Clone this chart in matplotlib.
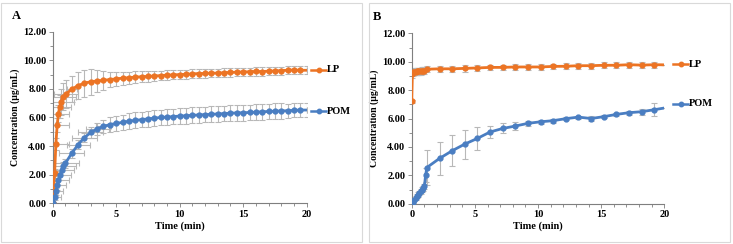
import matplotlib
matplotlib.use("Agg")
import matplotlib.pyplot as plt
from matplotlib.lines import Line2D
from matplotlib.patches import Rectangle
from matplotlib.ticker import MultipleLocator, FormatStrFormatter

plt.rcParams['font.family'] = ['Liberation Serif', 'DejaVu Serif']
plt.rcParams['font.weight'] = 'bold'

ORANGE = '#EC7424'
BLUE = '#4A7EC2'
ERR = '#B8B8B8'

# ---- Panel A data ----
tA_lp = [0, 0.05, 0.15, 0.25, 0.35, 0.45, 0.55, 0.65, 0.85, 1.05,
         1.5, 2, 2.5, 3, 3.5, 4, 4.5, 5, 5.5, 6, 6.5, 7, 7.5, 8, 8.5, 9, 9.5, 10,
         10.5, 11, 11.5, 12, 12.5, 13, 13.5, 14, 14.5, 15, 15.5, 16, 16.5, 17,
         17.5, 18, 18.5, 19, 19.5, 20]
lpA = [0.05, 0.55, 2.1, 4.15, 5.45, 6.25, 6.75, 7.1, 7.45, 7.65,
       7.97, 8.23, 8.4, 8.5, 8.55, 8.6, 8.65, 8.7, 8.75, 8.78, 8.82, 8.85, 8.87,
       8.9, 8.93, 8.96, 8.98, 9.0, 9.02, 9.05, 9.07, 9.08, 9.1, 9.1, 9.13, 9.15,
       9.17, 9.18, 9.2, 9.22, 9.21, 9.24, 9.25, 9.28, 9.3, 9.32, 9.3, 9.3]
lpA_yerr = [0.05, 0.2, 0.3, 0.4, 0.5, 0.6, 0.8, 0.9, 0.95, 1.0,
            0.9, 0.95, 0.95, 0.9, 0.8, 0.65, 0.55, 0.5, 0.45, 0.42, 0.4, 0.38,
            0.36, 0.35, 0.34, 0.33, 0.32, 0.32, 0.31, 0.31, 0.31, 0.3, 0.3, 0.3,
            0.3, 0.3, 0.3, 0.29, 0.29, 0.29, 0.29, 0.29, 0.28, 0.28, 0.28, 0.28,
            0.28, 0.28]
lpA_xerr = [0, 0.3, 0.5, 1.0, 0.95, 0.8, 0.9, 1.0, 1.0, 0.95,
            0.4] + [0] * 37

tA_pom = [0, 0.15, 0.25, 0.35, 0.45, 0.55, 0.7, 0.85, 1.0,
          1.5, 2, 2.5, 3, 3.5, 4, 4.5, 5, 5.5, 6, 6.5, 7, 7.5, 8, 8.5, 9, 9.5, 10,
          10.5, 11, 11.5, 12, 12.5, 13, 13.5, 14, 14.5, 15, 15.5, 16, 16.5, 17,
          17.5, 18, 18.5, 19, 19.5, 20]
pomA = [0, 0.43, 0.85, 1.25, 1.6, 1.95, 2.3, 2.6, 2.8,
        3.5, 4.1, 4.6, 4.95, 5.2, 5.38, 5.5, 5.58, 5.66, 5.74, 5.8, 5.85, 5.9,
        5.95, 6.0, 6.03, 6.06, 6.1, 6.12, 6.15, 6.18, 6.2, 6.22, 6.25, 6.27, 6.3,
        6.32, 6.33, 6.35, 6.37, 6.4, 6.42, 6.44, 6.46, 6.47, 6.5, 6.52, 6.52]
pomA_yerr = [0.05, 0.2, 0.25, 0.3, 0.3, 0.3, 0.3, 0.3, 0.3,
             0.3, 0.3, 0.3, 0.35, 0.4, 0.45, 0.5, 0.5, 0.52, 0.55, 0.55, 0.55,
             0.55, 0.55, 0.55, 0.55, 0.55, 0.55, 0.55, 0.55, 0.55, 0.55, 0.55,
             0.55, 0.55, 0.55, 0.55, 0.55, 0.55, 0.55, 0.55, 0.55, 0.55, 0.55,
             0.5, 0.5, 0.5, 0.5]
pomA_xerr = [0, 0.5, 0.6, 0.7, 0.8, 0.9, 1.0, 1.0, 1.05,
             0.97, 0.9, 1.0, 1.0, 0.9, 0.6] + [0] * 32

# ---- Panel B data ----
tB_lp = [0, 0.05, 0.1, 0.2, 0.3, 0.4, 0.5, 0.6, 0.7, 0.8, 0.9, 1.0, 1.2,
         2.2, 3.2, 4.2, 5.2, 6.2, 7.2, 8.2, 9.2, 10.2, 11.2, 12.2, 13.2, 14.2,
         15.2, 16.2, 17.2, 18.2, 19.2, 20]
lpB = [7.2, 9.1, 9.25, 9.3, 9.3, 9.32, 9.33, 9.33, 9.34, 9.35, 9.36, 9.38, 9.47,
       9.5, 9.5, 9.53, 9.56, 9.6, 9.6, 9.63, 9.63, 9.63, 9.67, 9.68, 9.72, 9.72,
       9.75, 9.75, 9.79, 9.76, 9.79, 9.78]
lpB_yerr = [0.1, 0.25, 0.25, 0.25, 0.25, 0.25, 0.25, 0.25, 0.25, 0.25, 0.25,
            0.25, 0.2, 0.22, 0.2, 0.22, 0.22, 0.2, 0.2, 0.2, 0.2, 0.2, 0.2, 0.2,
            0.2, 0.2, 0.2, 0.2, 0.22, 0.2, 0.22, 0]

tB_pom = [0, 0.1, 0.2, 0.3, 0.4, 0.5, 0.6, 0.7, 0.8, 0.9, 1.0, 1.1, 1.2,
          2.2, 3.2, 4.2, 5.2, 6.2, 7.2, 8.2, 9.2, 10.2, 11.2, 12.2, 13.2, 14.2,
          15.2, 16.2, 17.2, 18.2, 19.2, 20]
pomB = [0.05, 0.15, 0.28, 0.4, 0.52, 0.64, 0.76, 0.88, 1.0, 1.1, 1.22, 2.0, 2.55,
        3.19, 3.73, 4.2, 4.6, 5.05, 5.3, 5.47, 5.66, 5.77, 5.85, 5.99, 6.1, 6.0,
        6.13, 6.29, 6.41, 6.48, 6.62, 6.74]
pomB_yerr = [0.05, 0.1, 0.12, 0.14, 0.15, 0.16, 0.17, 0.18, 0.18, 0.18, 0.18,
             0.5, 1.2, 1.16, 1.1, 1.02, 0.8, 0.45, 0.35, 0.3, 0.2, 0.15, 0.15,
             0.12, 0.1, 0.15, 0.1, 0.12, 0.15, 0.22, 0.45, 0]

fig = plt.figure(figsize=(7.33, 2.44), dpi=100)

# panel frames
for x0, w in [(1, 361), (369, 361)]:
    fig.add_artist(Rectangle((x0 / 733, 2 / 244), w / 733, 239 / 244,
                             transform=fig.transFigure, fill=False,
                             edgecolor='#D9D9D9', lw=0.8))

axA = fig.add_axes([0.0719, 0.1668, 0.3465, 0.7035])
axB = fig.add_axes([0.5617, 0.165, 0.3446, 0.6985])


def draw(ax, t, y, yerr, color, xerr=None):
    ax.errorbar(t, y, yerr=yerr, xerr=xerr, fmt='none', ecolor=ERR,
                elinewidth=0.8, capsize=2, capthick=0.8, zorder=1)
    ax.plot(t, y, '-o', color=color, lw=2, ms=3.5,
            markevery=slice(0, len(t) - 1), zorder=3)


draw(axA, tA_lp, lpA, lpA_yerr, ORANGE, lpA_xerr)
draw(axA, tA_pom, pomA, pomA_yerr, BLUE, pomA_xerr)
draw(axB, tB_lp, lpB, lpB_yerr, ORANGE)
draw(axB, tB_pom, pomB, pomB_yerr, BLUE)

for ax in (axA, axB):
    ax.set_xlim(0, 20)
    ax.set_ylim(0, 12)
    ax.xaxis.set_major_locator(MultipleLocator(5))
    ax.xaxis.set_minor_locator(MultipleLocator(1))
    ax.yaxis.set_major_locator(MultipleLocator(2))
    ax.yaxis.set_minor_locator(MultipleLocator(1))
    ax.yaxis.set_major_formatter(FormatStrFormatter('%.2f'))
    for s in ('top', 'right'):
        ax.spines[s].set_visible(False)
    for s in ('left', 'bottom'):
        ax.spines[s].set_color('#7F7F7F')
        ax.spines[s].set_linewidth(0.8)
    ax.tick_params(which='both', direction='out', color='#7F7F7F', width=0.6,
                   labelsize=7.5, pad=1.5)
    ax.tick_params(which='major', length=3)
    ax.tick_params(which='minor', length=2.5)
    for lab in ax.get_xticklabels() + ax.get_yticklabels():
        lab.set_fontweight('bold')
    ax.set_xlabel('Time (min)', fontsize=7.5, fontweight='bold', labelpad=2)
    ax.set_ylabel('Concentration (μg/mL)', fontsize=7, fontweight='bold',
                  labelpad=2)
    ax.patch.set_alpha(0)


# manual legends to the right of each plot
def legend_entry(x0, y, color, label):
    x0f, x1f = x0 / 733, (x0 + 15) / 733
    yf = 1 - y / 244
    fig.add_artist(Line2D([x0f, (x0f + x1f) / 2, x1f], [yf, yf, yf],
                          transform=fig.transFigure, color=color, lw=1.8,
                          marker='o', ms=3.2, markevery=[1]))
    fig.text(x1f + 1 / 733, yf, label, fontsize=7.5, fontweight='bold',
             va='center', ha='left')


legend_entry(311, 70, ORANGE, 'LP')
legend_entry(311, 111, BLUE, 'POM')
legend_entry(673, 64, ORANGE, 'LP')
legend_entry(673, 104, BLUE, 'POM')

fig.text(12 / 733, 1 - 16 / 244, 'A', fontsize=9, fontweight='bold',
         va='center', ha='left')
fig.text(373 / 733, 1 - 17 / 244, 'B', fontsize=9, fontweight='bold',
         va='center', ha='left')

fig.savefig('out.png', dpi=100)
